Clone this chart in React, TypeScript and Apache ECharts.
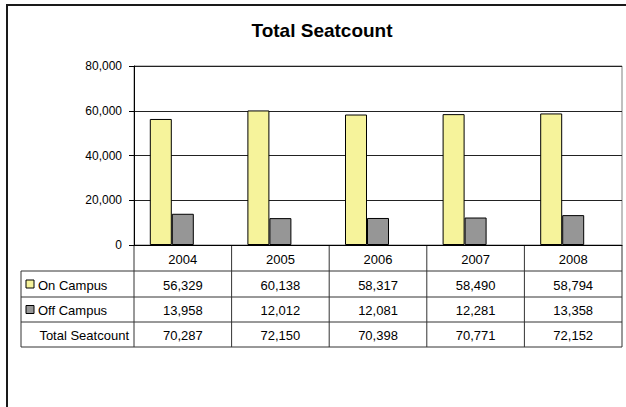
import React, { useEffect, useRef } from "react";
import * as echarts from "echarts";

const years = ["2004", "2005", "2006", "2007", "2008"];
const onCampus = [56329, 60138, 58317, 58490, 58794];
const offCampus = [13958, 12012, 12081, 12281, 13358];
const totalSeatcount = [70287, 72150, 70398, 70771, 72152];
const seriesNames = ["On Campus", "Off Campus", "Total Seatcount"];
const yTicks = { min: 0, max: 80000, interval: 20000 };

const W = 626;
const H = 407;
const FONT = "'Liberation Sans', Arial, sans-serif";
const YELLOW = "#F6F39B";
const GRAY = "#969696";
const LINE = "#333333";

const gridLeft = 134;
const gridRight = 622;
const gridTop = 66;
const gridBottomY = 245;
const rowYs = [245, 271, 297, 322, 347];
const tableLeft = 21;

const fmt = (v: number) => v.toLocaleString("en-US");

export default function App() {
  const ref = useRef<HTMLDivElement>(null);
  useEffect(() => {
    if (!ref.current) return;
    const chart = echarts.init(ref.current, undefined, { renderer: "svg" });
    const colW = (gridRight - gridLeft) / years.length;
    const g: any[] = [];
    g.push({
      type: "rect",
      shape: { x: 7, y: 5, width: 800, height: 600 },
      style: { fill: "none", stroke: "#1a1a1a", lineWidth: 2 },
      silent: true,
    });
    g.push({
      type: "text",
      x: 322,
      y: 30,
      style: {
        text: "Total Seatcount",
        font: `bold 19px ${FONT}`,
        fill: "#000",
        align: "center",
        verticalAlign: "middle",
      },
    });
    for (let i = 1; i < rowYs.length; i++) {
      g.push({
        type: "line",
        shape: { x1: tableLeft, y1: rowYs[i], x2: gridRight, y2: rowYs[i] },
        style: { stroke: LINE, lineWidth: 1 },
      });
    }
    for (let i = 0; i <= years.length; i++) {
      const x = gridLeft + i * colW;
      g.push({
        type: "line",
        shape: { x1: x, y1: rowYs[0], x2: x, y2: rowYs[4] },
        style: { stroke: LINE, lineWidth: 1 },
      });
    }
    g.push({
      type: "line",
      shape: { x1: tableLeft, y1: rowYs[1], x2: tableLeft, y2: rowYs[4] },
      style: { stroke: LINE, lineWidth: 1 },
    });
    const textStyle = (text: string, x: number, y: number, align = "center") => ({
      type: "text",
      x,
      y,
      style: {
        text,
        font: `13px ${FONT}`,
        fill: "#000",
        align,
        verticalAlign: "middle",
      },
    });
    const rows = [onCampus, offCampus, totalSeatcount];
    years.forEach((yr, i) => {
      const cx = gridLeft + (i + 0.5) * colW;
      g.push(textStyle(yr, cx, (rowYs[0] + rowYs[1]) / 2 + 1));
      rows.forEach((r, k) => {
        g.push(textStyle(fmt(r[i]), cx, (rowYs[k + 1] + rowYs[k + 2]) / 2 + 1));
      });
    });
    const keyColors = [YELLOW, GRAY];
    keyColors.forEach((c, k) => {
      const cy = (rowYs[k + 1] + rowYs[k + 2]) / 2;
      g.push({
        type: "rect",
        shape: { x: 26, y: cy - 4, width: 8, height: 8 },
        style: { fill: c, stroke: "#000", lineWidth: 1 },
      });
      g.push(textStyle(seriesNames[k], 38, cy + 1, "left"));
    });
    g.push(textStyle(seriesNames[2], 129, (rowYs[3] + rowYs[4]) / 2 + 1, "right"));

    chart.setOption({
      animation: false,
      backgroundColor: "#fff",
      grid: {
        left: gridLeft,
        right: W - gridRight,
        top: gridTop,
        bottom: H - gridBottomY,
        show: true,
        borderColor: "#808080",
        borderWidth: 1,
        containLabel: false,
      },
      xAxis: {
        type: "category",
        data: years,
        axisLabel: { show: false },
        axisTick: { show: false },
        axisLine: { show: true, lineStyle: { color: "#000", width: 1 } },
      },
      yAxis: {
        type: "value",
        min: yTicks.min,
        max: yTicks.max,
        interval: yTicks.interval,
        axisLine: { show: true, lineStyle: { color: "#000", width: 1 } },
        axisTick: { show: true, length: 5, lineStyle: { color: "#000" } },
        splitLine: { show: true, lineStyle: { color: "#222", width: 1 } },
        axisLabel: {
          margin: 12,
          color: "#000",
          fontFamily: FONT,
          fontSize: 12,
          formatter: (v: number) => fmt(v),
        },
      },
      series: [
        {
          name: seriesNames[0],
          type: "bar",
          data: onCampus,
          barWidth: 22,
          barGap: "0%",
          itemStyle: { color: YELLOW, borderColor: "#000", borderWidth: 1 },
        },
        {
          name: seriesNames[1],
          type: "bar",
          data: offCampus,
          barWidth: 22,
          barGap: "0%",
          itemStyle: { color: GRAY, borderColor: "#000", borderWidth: 1 },
        },
        {
          name: "spacer",
          type: "bar",
          data: years.map(() => "-"),
          barWidth: 22,
          barGap: "0%",
          silent: true,
        },
      ],
      graphic: g,
    });
    return () => chart.dispose();
  }, []);
  return (
    <div
      ref={ref}
      style={{ position: "absolute", left: 0, top: 0, width: W, height: H }}
    />
  );
}
